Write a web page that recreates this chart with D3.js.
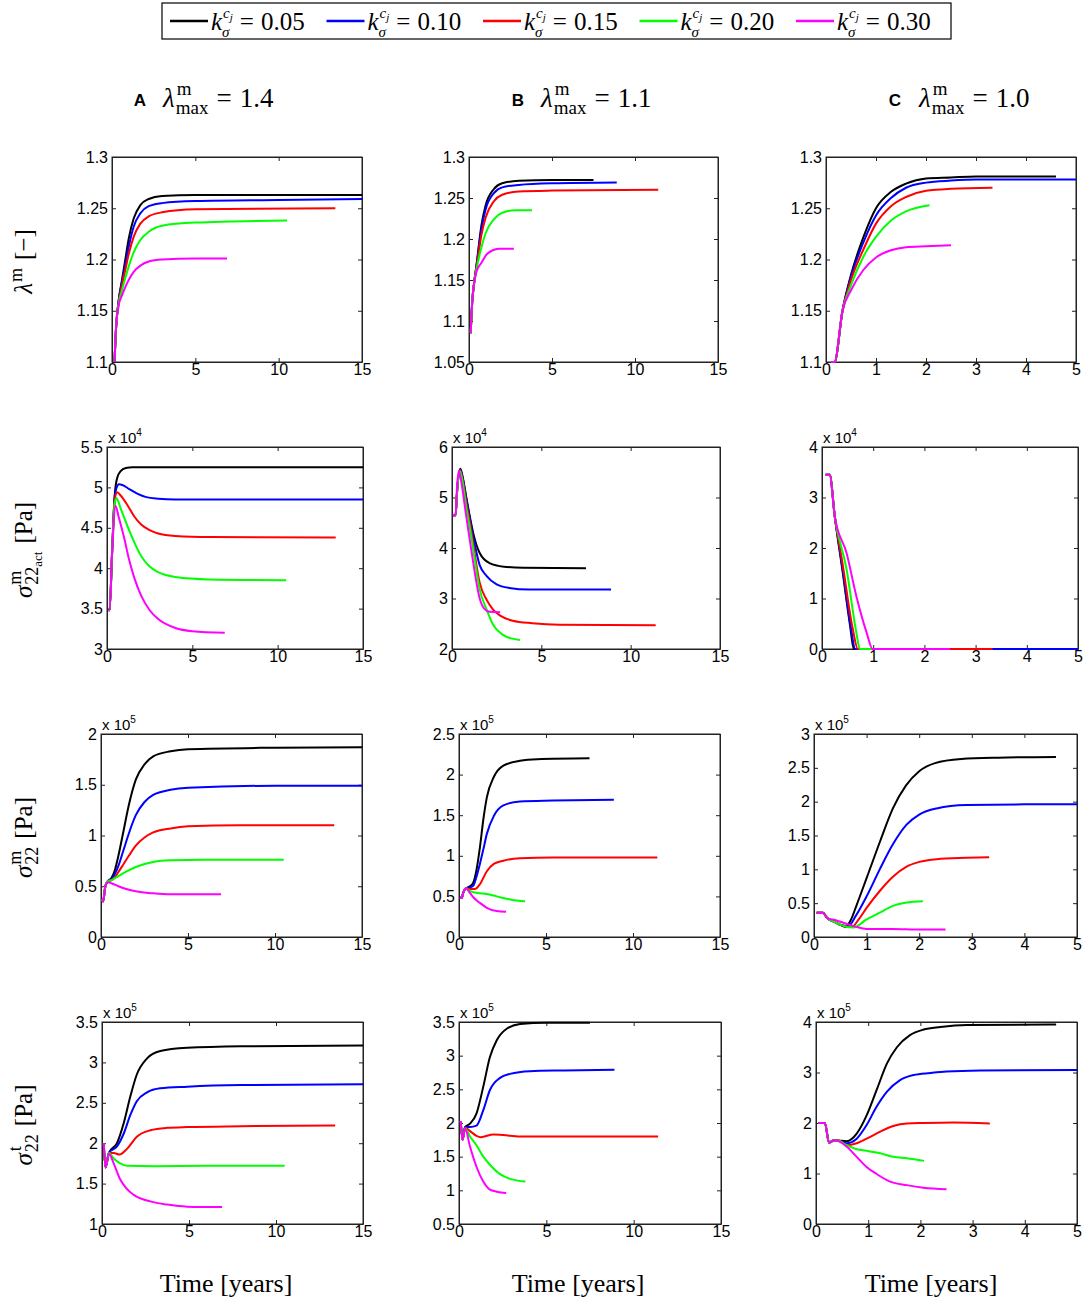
<!DOCTYPE html>
<meta charset="utf-8">
<style>
body { margin: 0; background: #fff; }
svg text { font-family: "Liberation Serif", "Times New Roman", serif; fill: #000; }
.tick text { font-family: "Liberation Sans", Arial, sans-serif; font-size: 16px; fill: #000; }
.tick line, .domain { stroke: #222; }
.curve { fill: none; stroke-width: 2; stroke-linejoin: round; stroke-linecap: butt; }
</style>
<svg id="chart" width="1084" height="1302"></svg>
<script src="https://d3js.org/d3.v7.min.js"></script>
<script>

// series colours and legend values
var colors = ["#000000", "#0000ff", "#ff0000", "#00ff00", "#ff00ff"];
var kValues = ["0.05", "0.10", "0.15", "0.20", "0.30"];
var headers = [["A", "1.4"], ["B", "1.1"], ["C", "1.0"]];

// axis ticks
var xMax = [15, 15, 5];
var xTicks = [[0, 5, 10, 15], [0, 5, 10, 15], [0, 1, 2, 3, 4, 5]];
var yTicks = [
  [[1.1, 1.15, 1.2, 1.25, 1.3], [1.05, 1.1, 1.15, 1.2, 1.25, 1.3], [1.1, 1.15, 1.2, 1.25, 1.3]],
  [[3, 3.5, 4, 4.5, 5, 5.5], [2, 3, 4, 5, 6], [0, 1, 2, 3, 4]],
  [[0, 0.5, 1, 1.5, 2], [0, 0.5, 1, 1.5, 2, 2.5], [0, 0.5, 1, 1.5, 2, 2.5, 3]],
  [[1, 1.5, 2, 2.5, 3, 3.5], [0.5, 1, 1.5, 2, 2.5, 3, 3.5], [0, 1, 2, 3, 4]]
];
var exponents = [null, "4", "5", "5"];

// lambda^m [-]   (series order: k = 0.05, 0.10, 0.15, 0.20, 0.30)
var lambdaA = [
  [[0.15,1.1],[0.25,1.135],[0.4,1.16],[0.6,1.18],[0.8,1.2],[1.0,1.22],[1.3,1.24],[1.7,1.253],[2.2,1.259],[3,1.262],[5,1.263],[15,1.263]],
  [[0.15,1.1],[0.25,1.135],[0.4,1.16],[0.6,1.178],[0.8,1.195],[1.0,1.212],[1.3,1.232],[1.7,1.245],[2.2,1.252],[3,1.255],[5,1.257],[10,1.258],[15,1.259]],
  [[0.15,1.1],[0.25,1.135],[0.4,1.158],[0.6,1.175],[0.8,1.19],[1.0,1.205],[1.3,1.222],[1.7,1.235],[2.2,1.242],[3,1.246],[5,1.249],[13.4,1.25]],
  [[0.15,1.1],[0.25,1.135],[0.4,1.157],[0.6,1.17],[0.8,1.182],[1.0,1.193],[1.3,1.207],[1.7,1.219],[2.2,1.227],[3,1.233],[5,1.236],[10.5,1.238]],
  [[0.15,1.1],[0.25,1.135],[0.4,1.155],[0.6,1.165],[0.8,1.173],[1.0,1.18],[1.3,1.188],[1.7,1.194],[2.2,1.198],[3,1.2],[5,1.201],[6.9,1.201]]
];
var lambdaB = [
  [[0.1,1.085],[0.2,1.125],[0.3,1.145],[0.45,1.168],[0.75,1.217],[1.0,1.241],[1.5,1.261],[2.0,1.268],[3,1.271],[5,1.272],[7.5,1.272]],
  [[0.1,1.085],[0.2,1.125],[0.3,1.145],[0.45,1.167],[0.75,1.212],[1.0,1.236],[1.5,1.256],[2.0,1.263],[3,1.266],[5,1.268],[8.9,1.269]],
  [[0.1,1.085],[0.2,1.125],[0.3,1.145],[0.45,1.165],[0.75,1.205],[1.0,1.226],[1.5,1.246],[2.0,1.254],[3,1.258],[5,1.259],[11.4,1.26]],
  [[0.1,1.085],[0.2,1.125],[0.3,1.145],[0.45,1.163],[0.75,1.19],[1.0,1.207],[1.5,1.224],[2.0,1.232],[2.8,1.235],[3.8,1.235]],
  [[0.1,1.085],[0.2,1.125],[0.3,1.145],[0.45,1.16],[0.75,1.171],[1.05,1.181],[1.4,1.186],[1.8,1.188],[2.7,1.188]]
];
var lambdaC = [
  [[0.1,1.1],[0.17,1.1],[0.33,1.15],[0.5,1.185],[0.75,1.222],[1.0,1.25],[1.3,1.266],[1.6,1.274],[2.0,1.279],[2.5,1.28],[3,1.281],[4.6,1.281]],
  [[0.1,1.1],[0.17,1.1],[0.33,1.15],[0.5,1.183],[0.75,1.217],[1.0,1.243],[1.3,1.26],[1.6,1.27],[2.0,1.275],[2.5,1.277],[3,1.278],[5,1.278]],
  [[0.1,1.1],[0.17,1.1],[0.33,1.15],[0.5,1.18],[0.75,1.21],[1.0,1.235],[1.3,1.252],[1.6,1.261],[2.0,1.267],[2.5,1.269],[3.33,1.27]],
  [[0.1,1.1],[0.17,1.1],[0.33,1.15],[0.5,1.175],[0.75,1.203],[1.0,1.222],[1.3,1.238],[1.6,1.247],[2.07,1.253]],
  [[0.1,1.1],[0.17,1.1],[0.33,1.15],[0.5,1.17],[0.75,1.19],[1.0,1.202],[1.3,1.209],[1.6,1.212],[2.0,1.213],[2.5,1.214]]
];

// sigma^m_22act [Pa] x 10^4
var actA = [
  [[0.1,3.48],[0.15,3.48],[0.3,4.2],[0.45,4.9],[0.6,5.12],[0.8,5.2],[1.1,5.24],[1.5,5.25],[15,5.25]],
  [[0.1,3.48],[0.15,3.48],[0.3,4.2],[0.45,4.88],[0.55,4.99],[0.7,5.04],[0.9,5.03],[1.3,4.98],[1.8,4.92],[2.3,4.88],[3,4.86],[4,4.85],[15,4.85]],
  [[0.1,3.48],[0.15,3.48],[0.3,4.2],[0.45,4.85],[0.6,4.94],[0.8,4.9],[1.2,4.78],[1.6,4.64],[2.0,4.54],[2.5,4.47],[3,4.43],[4,4.4],[6,4.385],[13.4,4.38]],
  [[0.1,3.48],[0.15,3.48],[0.3,4.2],[0.45,4.8],[0.55,4.87],[0.8,4.74],[1.2,4.52],[1.6,4.32],[2.0,4.15],[2.5,4.02],[3,3.95],[4,3.89],[6,3.86],[10.5,3.85]],
  [[0.1,3.48],[0.15,3.48],[0.3,4.2],[0.5,4.77],[0.7,4.62],[1.0,4.38],[1.3,4.1],[1.6,3.88],[2.0,3.66],[2.5,3.48],[3,3.37],[4,3.26],[5,3.22],[6.9,3.2]]
];
var actB = [
  [[0.05,4.65],[0.2,4.65],[0.3,5.2],[0.47,5.57],[0.6,5.4],[0.8,5.0],[1.0,4.62],[1.2,4.28],[1.55,3.9],[2.1,3.7],[2.9,3.63],[4,3.61],[7.5,3.6]],
  [[0.05,4.65],[0.2,4.65],[0.3,5.2],[0.47,5.55],[0.6,5.38],[0.8,4.98],[1.0,4.58],[1.2,4.2],[1.55,3.66],[1.93,3.45],[2.5,3.28],[3.2,3.21],[4.3,3.18],[8.9,3.18]],
  [[0.05,4.65],[0.2,4.65],[0.3,5.2],[0.45,5.54],[0.6,5.35],[0.8,4.9],[1.0,4.5],[1.2,4.05],[1.55,3.31],[1.93,2.98],[2.3,2.78],[2.7,2.66],[3.4,2.56],[4.5,2.51],[6,2.48],[11.4,2.47]],
  [[0.05,4.65],[0.2,4.65],[0.3,5.2],[0.45,5.52],[0.6,5.3],[0.8,4.8],[1.0,4.4],[1.2,3.95],[1.55,3.18],[1.93,2.79],[2.3,2.48],[2.85,2.28],[3.3,2.21],[3.8,2.18]],
  [[0.05,4.65],[0.2,4.65],[0.28,5.2],[0.38,5.53],[0.5,5.35],[0.8,4.62],[1.0,4.15],[1.2,3.68],[1.55,3.0],[1.8,2.8],[2.1,2.74],[2.7,2.73]]
];
var actC = [
  [[0.07,3.45],[0.15,3.45],[0.25,2.62],[0.4,1.55],[0.55,0.45],[0.62,0],[4.6,0]],
  [[0.07,3.45],[0.15,3.45],[0.25,2.62],[0.4,1.6],[0.56,0.45],[0.65,0],[5,0]],
  [[0.07,3.45],[0.15,3.45],[0.25,2.62],[0.4,1.7],[0.6,0.4],[0.7,0],[3.33,0]],
  [[0.07,3.45],[0.15,3.45],[0.25,2.62],[0.48,1.58],[0.67,0.33],[0.74,0],[2.07,0]],
  [[0.07,3.45],[0.15,3.45],[0.25,2.62],[0.48,1.9],[0.67,1.05],[0.87,0.33],[0.99,0],[2.5,0]]
];

// sigma^m_22 [Pa] x 10^5
var m22A = [
  [[0.05,0.37],[0.12,0.35],[0.25,0.5],[0.4,0.55],[0.6,0.58],[0.8,0.66],[1.0,0.8],[1.3,1.05],[1.6,1.3],[2.0,1.55],[2.5,1.7],[3,1.78],[4,1.83],[5,1.85],[10,1.865],[15,1.87]],
  [[0.05,0.37],[0.12,0.35],[0.25,0.5],[0.4,0.55],[0.6,0.57],[0.8,0.62],[1.0,0.7],[1.3,0.86],[1.6,1.02],[2.0,1.2],[2.5,1.33],[3,1.4],[4,1.45],[5,1.47],[10,1.49],[15,1.49]],
  [[0.05,0.37],[0.12,0.35],[0.25,0.5],[0.4,0.55],[0.6,0.56],[0.8,0.59],[1.0,0.64],[1.3,0.72],[1.6,0.8],[2.0,0.9],[2.5,0.98],[3,1.03],[4,1.07],[5,1.09],[8,1.1],[13.4,1.1]],
  [[0.05,0.37],[0.12,0.35],[0.25,0.5],[0.4,0.55],[0.6,0.56],[0.8,0.58],[1.0,0.6],[1.5,0.65],[2.0,0.69],[2.5,0.72],[3,0.74],[4,0.755],[6,0.76],[10.5,0.76]],
  [[0.05,0.37],[0.12,0.35],[0.25,0.5],[0.4,0.54],[0.6,0.53],[1.0,0.5],[1.5,0.47],[2.0,0.45],[3,0.43],[4,0.42],[6.9,0.42]]
];
var m22B = [
  [[0.05,0.48],[0.15,0.48],[0.25,0.55],[0.4,0.6],[0.6,0.62],[0.82,0.67],[1.0,0.82],[1.2,1.1],[1.4,1.45],[1.6,1.72],[2.0,1.97],[2.55,2.11],[3.5,2.17],[4.5,2.19],[7.5,2.2]],
  [[0.05,0.48],[0.15,0.48],[0.25,0.55],[0.4,0.6],[0.6,0.61],[0.82,0.63],[1.0,0.74],[1.2,0.9],[1.4,1.08],[1.6,1.27],[2.0,1.49],[2.55,1.62],[3.5,1.67],[5.4,1.68],[8.9,1.69]],
  [[0.05,0.48],[0.15,0.48],[0.25,0.55],[0.4,0.6],[0.6,0.59],[0.82,0.59],[1.0,0.6],[1.2,0.65],[1.6,0.81],[2.0,0.9],[2.55,0.94],[3.5,0.97],[5.4,0.98],[11.4,0.98]],
  [[0.05,0.48],[0.15,0.48],[0.25,0.55],[0.4,0.6],[0.6,0.57],[0.82,0.55],[1.2,0.54],[1.6,0.53],[2.0,0.51],[2.35,0.49],[3,0.46],[3.8,0.44]],
  [[0.05,0.48],[0.15,0.48],[0.25,0.55],[0.4,0.6],[0.6,0.55],[0.82,0.49],[1.2,0.42],[1.6,0.36],[2.16,0.32],[2.7,0.31]]
];
var m22C = [
  [[0.05,0.36],[0.17,0.36],[0.25,0.28],[0.4,0.22],[0.5,0.18],[0.6,0.15],[0.7,0.25],[0.8,0.45],[1.0,0.87],[1.25,1.4],[1.5,1.9],[1.75,2.24],[2.0,2.45],[2.3,2.57],[2.8,2.63],[3.5,2.65],[4.6,2.66]],
  [[0.05,0.36],[0.17,0.36],[0.25,0.28],[0.4,0.22],[0.5,0.18],[0.65,0.16],[0.8,0.32],[1.0,0.6],[1.25,1.0],[1.5,1.37],[1.76,1.66],[2.0,1.81],[2.33,1.9],[2.9,1.95],[4,1.96],[5,1.96]],
  [[0.05,0.36],[0.17,0.36],[0.25,0.28],[0.4,0.22],[0.5,0.18],[0.72,0.15],[0.85,0.26],[1.0,0.43],[1.25,0.68],[1.5,0.89],[1.76,1.04],[2.0,1.11],[2.33,1.15],[2.9,1.17],[3.33,1.18]],
  [[0.05,0.36],[0.17,0.36],[0.25,0.28],[0.4,0.22],[0.5,0.18],[0.75,0.14],[1.0,0.26],[1.25,0.36],[1.5,0.46],[1.76,0.51],[2.07,0.53]],
  [[0.05,0.36],[0.17,0.36],[0.25,0.28],[0.4,0.25],[0.6,0.2],[0.8,0.15],[1.0,0.12],[1.5,0.12],[2.0,0.11],[2.5,0.11]]
];

// sigma^t_22 [Pa] x 10^5
var tA = [
  [[0.1,2.0],[0.2,1.7],[0.4,1.88],[0.86,2.0],[1.25,2.25],[1.63,2.58],[2.0,2.85],[2.59,3.05],[3.35,3.14],[4.9,3.18],[8,3.2],[15,3.21]],
  [[0.1,2.0],[0.2,1.7],[0.4,1.88],[0.86,1.96],[1.25,2.12],[1.63,2.35],[2.0,2.52],[2.59,2.63],[3.35,2.68],[4.9,2.7],[8,2.72],[15,2.73]],
  [[0.1,2.0],[0.2,1.7],[0.4,1.88],[0.67,1.88],[1.0,1.86],[1.44,1.93],[2.0,2.08],[2.78,2.16],[3.74,2.19],[4.9,2.2],[8,2.21],[13.4,2.22]],
  [[0.1,2.0],[0.2,1.7],[0.4,1.88],[0.67,1.81],[1.05,1.75],[1.44,1.72],[3,1.715],[6,1.72],[10.5,1.72]],
  [[0.1,2.0],[0.2,1.7],[0.4,1.87],[0.67,1.75],[1.05,1.55],[1.4,1.44],[1.82,1.36],[2.78,1.28],[3.74,1.24],[4.9,1.215],[6.9,1.21]]
];
var tB = [
  [[0.1,2.03],[0.2,1.75],[0.35,1.94],[0.63,1.99],[1.0,2.14],[1.39,2.54],[1.77,2.98],[2.16,3.23],[2.73,3.4],[3.5,3.47],[5,3.49],[7.5,3.49]],
  [[0.1,2.03],[0.2,1.75],[0.35,1.94],[0.63,1.94],[1.0,1.96],[1.39,2.19],[1.77,2.49],[2.35,2.67],[2.92,2.73],[4.06,2.77],[6,2.78],[8.9,2.79]],
  [[0.1,2.03],[0.2,1.75],[0.35,1.93],[0.63,1.88],[1.0,1.81],[1.25,1.79],[1.97,1.83],[2.54,1.82],[3.5,1.8],[6,1.8],[11.4,1.8]],
  [[0.1,2.03],[0.2,1.75],[0.35,1.92],[0.63,1.8],[1.0,1.67],[1.39,1.5],[1.77,1.38],[2.35,1.24],[2.92,1.17],[3.8,1.13]],
  [[0.1,2.03],[0.2,1.75],[0.35,1.92],[0.63,1.65],[1.0,1.35],[1.39,1.13],[1.77,1.01],[2.16,0.98],[2.7,0.96]]
];
var tC = [
  [[0.05,2.0],[0.17,2.0],[0.25,1.61],[0.35,1.66],[0.45,1.65],[0.59,1.64],[0.78,1.79],[0.97,2.15],[1.16,2.65],[1.36,3.18],[1.55,3.5],[1.8,3.74],[2.06,3.85],[2.38,3.9],[2.89,3.94],[4.6,3.95]],
  [[0.05,2.0],[0.17,2.0],[0.25,1.61],[0.35,1.66],[0.45,1.65],[0.59,1.6],[0.78,1.69],[0.97,1.96],[1.16,2.32],[1.36,2.62],[1.61,2.85],[1.87,2.95],[2.19,2.99],[2.5,3.02],[3.15,3.04],[5,3.05]],
  [[0.05,2.0],[0.17,2.0],[0.25,1.61],[0.35,1.66],[0.45,1.65],[0.59,1.56],[0.78,1.6],[0.97,1.69],[1.23,1.83],[1.48,1.94],[1.74,1.99],[2.06,2.0],[2.63,2.01],[3.33,1.99]],
  [[0.05,2.0],[0.17,2.0],[0.25,1.61],[0.35,1.66],[0.45,1.64],[0.59,1.56],[0.78,1.48],[0.97,1.45],[1.23,1.4],[1.48,1.33],[1.74,1.3],[2.07,1.25]],
  [[0.05,2.0],[0.17,2.0],[0.25,1.61],[0.35,1.66],[0.45,1.63],[0.59,1.53],[0.78,1.33],[0.97,1.13],[1.16,0.99],[1.42,0.84],[1.74,0.77],[2.06,0.72],[2.5,0.69]]
];

var grid = [
  [lambdaA, lambdaB, lambdaC],
  [actA, actB, actC],
  [m22A, m22B, m22C],
  [tA, tB, tC]
];

// panel boxes (pixels), per column then row
var boxLeft = [[112, 107, 101, 102], [469, 452, 459, 459], [826, 822, 814, 816]];
var boxRight = [[362, 363, 362, 363], [718, 720, 720, 721], [1076, 1078, 1077, 1077]];
var rowTop = [157, 447, 734, 1022];
var rowBottom = [362, 649, 937, 1224];

var svg = d3.select("#chart");

// lays out a row of text pieces, returns the x where it ends
function layout(g, items, x0, y0) {
  var x = x0;
  items.forEach(function (it) {
    if (it.stack) {
      var w = 0;
      it.stack.forEach(function (list) { w = Math.max(w, layout(g, list, x, y0) - x); });
      x += w;
    } else {
      x += it.pl || 0;
      var t = g.append("text")
          .attr("x", x)
          .attr("y", y0 + (it.dy || 0))
          .style("font-size", it.s + "px")
          .style("font-style", it.it ? "italic" : "normal")
          .text(it.t);
      x += t.node().getComputedTextLength();
    }
  });
  return x;
}

function centered(g, items) {
  var inner = g.append("g");
  var w = layout(inner, items, 0, 0);
  inner.attr("transform", "translate(" + (-w / 2) + ",0)");
}

var line = d3.line().curve(d3.curveMonotoneX);

grid.forEach(function (row, r) {
  row.forEach(function (series, c) {
    var l = boxLeft[c][r], rt = boxRight[c][r], top = rowTop[r], bot = rowBottom[r];
    var yt = yTicks[r][c];
    var x = d3.scaleLinear().domain([0, xMax[c]]).range([l, rt]);
    var y = d3.scaleLinear().domain([yt[0], yt[yt.length - 1]]).range([bot, top]);
    var g = svg.append("g");

    g.append("g").attr("transform", "translate(0," + bot + ")")
        .call(d3.axisBottom(x).tickValues(xTicks[c]).tickSizeInner(-4).tickSizeOuter(0).tickPadding(2).tickFormat(String));
    g.append("g").attr("transform", "translate(0," + top + ")")
        .call(d3.axisTop(x).tickValues(xTicks[c]).tickSizeInner(-4).tickSizeOuter(0).tickFormat(""));
    g.append("g").attr("transform", "translate(" + l + ",0)")
        .call(d3.axisLeft(y).tickValues(yt).tickSizeInner(-4).tickSizeOuter(0).tickPadding(4).tickFormat(String));
    g.append("g").attr("transform", "translate(" + rt + ",0)")
        .call(d3.axisRight(y).tickValues(yt).tickSizeInner(-4).tickSizeOuter(0).tickFormat(""));

    g.append("rect")
        .attr("x", l).attr("y", top)
        .attr("width", rt - l).attr("height", bot - top)
        .attr("fill", "none").attr("stroke", "#222");

    if (exponents[r]) {
      var ex = g.append("text")
          .attr("x", l + 1).attr("y", top - 4)
          .style("font-family", "'Liberation Sans', Arial, sans-serif")
          .style("font-size", "15px")
          .text("x 10");
      ex.append("tspan").attr("dy", -7).style("font-size", "10px").text(exponents[r]);
    }

    g.selectAll("path.curve")
        .data(series)
        .enter().append("path")
        .attr("class", "curve")
        .attr("stroke", function (d, i) { return colors[i]; })
        .attr("d", function (d) { return line(d.map(function (p) { return [x(p[0]), y(p[1])]; })); });
  });
});

// row labels
var rowLabels = [
  [{t: "λ", s: 25, it: true}, {t: "m", s: 18, dy: -10, pl: 1}, {t: "[−]", s: 25, pl: 8}],
  [{t: "σ", s: 25, it: true}, {stack: [[{t: "m", s: 18, dy: -11, pl: 1}], [{t: "22", s: 18, dy: 6, pl: 1}, {t: "act", s: 13, dy: 10}]]}, {t: "[Pa]", s: 25, pl: 8}],
  [{t: "σ", s: 25, it: true}, {stack: [[{t: "m", s: 18, dy: -11, pl: 1}], [{t: "22", s: 18, dy: 6, pl: 1}]]}, {t: "[Pa]", s: 25, pl: 8}],
  [{t: "σ", s: 25, it: true}, {stack: [[{t: "t", s: 18, dy: -11, pl: 2}], [{t: "22", s: 18, dy: 6, pl: 1}]]}, {t: "[Pa]", s: 25, pl: 8}]
];
rowLabels.forEach(function (items, r) {
  var cy = (rowTop[r] + rowBottom[r]) / 2 + 2;
  centered(svg.append("g").attr("transform", "translate(32," + cy + ") rotate(-90)"), items);
});

// column headers
var headerX = [[140, 163], [518, 541], [895, 919]];
headers.forEach(function (h, c) {
  var g = svg.append("g");
  g.append("text")
      .attr("x", headerX[c][0]).attr("y", 106)
      .attr("text-anchor", "middle")
      .style("font-family", "'Liberation Sans', Arial, sans-serif")
      .style("font-weight", "bold")
      .style("font-size", "17px")
      .text(h[0]);
  layout(g, [
    {t: "λ", s: 27, it: true},
    {stack: [[{t: "m", s: 19, dy: -12, pl: 2}], [{t: "max", s: 19, dy: 7, pl: 1}]]},
    {t: "=", s: 27, pl: 8},
    {t: h[1], s: 27, pl: 8}
  ], headerX[c][1], 107);
});

// x labels
var timeX = [226, 578, 931];
timeX.forEach(function (cx) {
  centered(svg.append("g").attr("transform", "translate(" + cx + ",1292)"), [{t: "Time [years]", s: 26}]);
});

// legend
var legend = svg.append("g");
legend.append("rect")
    .attr("x", 162).attr("y", 3).attr("width", 789).attr("height", 36)
    .attr("fill", "#fff").attr("stroke", "#000").attr("stroke-width", 1.2);
kValues.forEach(function (k, i) {
  var x0 = 170 + i * 156.5;
  legend.append("line")
      .attr("x1", x0).attr("x2", x0 + 38).attr("y1", 21).attr("y2", 21)
      .attr("stroke", colors[i]).attr("stroke-width", 2.5);
  layout(legend, [
    {t: "k", s: 25, it: true, pl: 2},
    {stack: [[{t: "c", s: 15, it: true, dy: -12, pl: 1}, {t: "j", s: 11, it: true, dy: -9}], [{t: "σ", s: 15, it: true, dy: 7}]]},
    {t: "=", s: 25, pl: 7},
    {t: k, s: 25, pl: 7}
  ], x0 + 39, 30);
});

</script>
